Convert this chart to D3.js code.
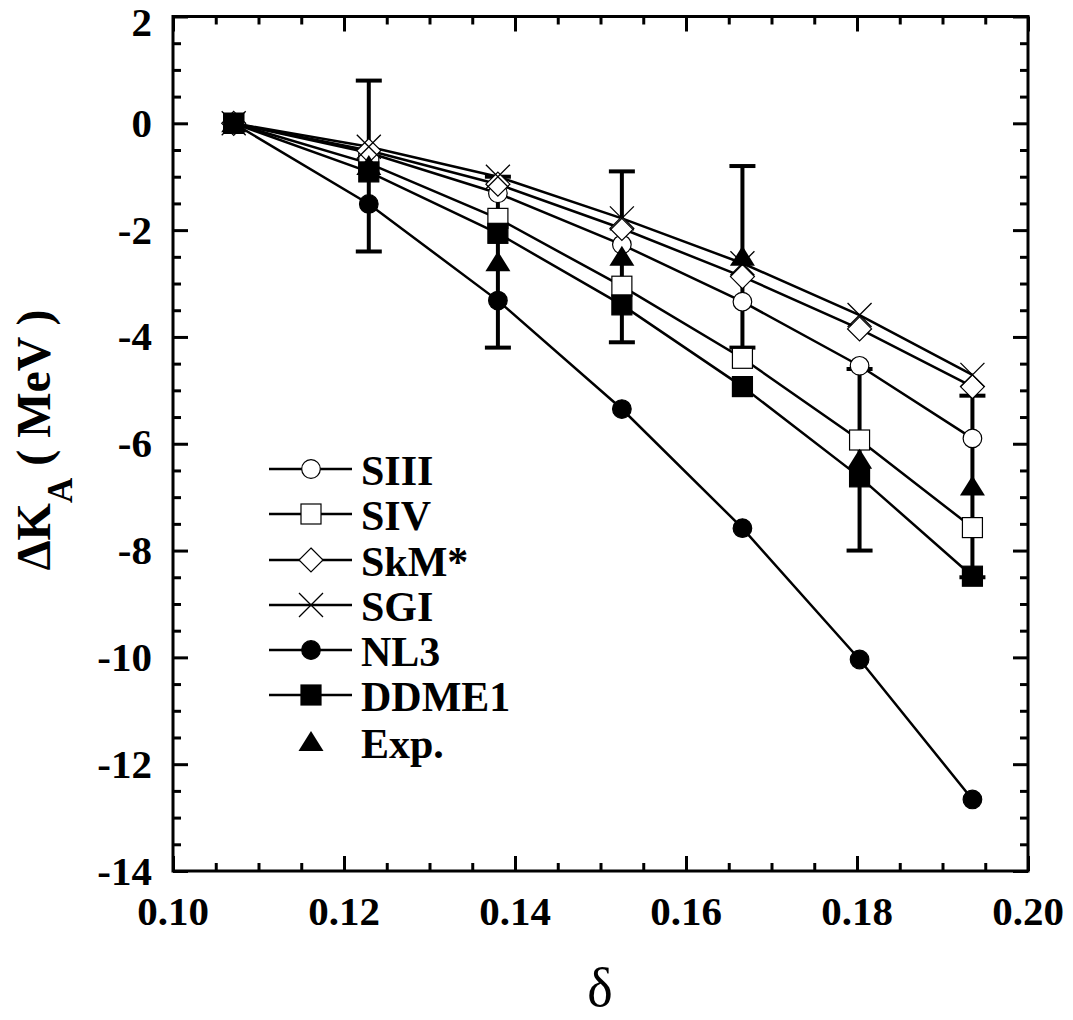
<!DOCTYPE html>
<meta charset="utf-8">
<title>Delta K_A vs delta</title>
<style>
body { margin: 0; background: #fff; }
svg { display: block; }
</style>
<svg width="1073" height="1020" font-family="'Liberation Serif', 'DejaVu Serif', serif"></svg>
<script src="https://d3js.org/d3.v7.min.js"></script>
<script>
// isospin asymmetry delta of each nucleus
var delta = [0.1071, 0.1229, 0.1380, 0.1525, 0.1666, 0.1803, 0.1935];

// Delta K_A (MeV)
var siii  = [0, -0.55, -1.31, -2.27, -3.34, -4.54, -5.90];
var siv   = [0, -0.75, -1.78, -3.05, -4.40, -5.93, -7.57];
var skm   = [0, -0.51, -1.14, -1.97, -2.87, -3.85, -4.93];
var sgi   = [0, -0.44, -1.00, -1.78, -2.62, -3.59, -4.71];
var nl3   = [0, -1.51, -3.32, -5.35, -7.58, -10.04, -12.66];
var ddme1 = [0, -0.91, -2.06, -3.40, -4.93, -6.62, -8.48];
var expVal = [0, -0.8, -2.6, -2.5, -2.5, -6.3, -6.8];
var expErr = [0, 1.6, 1.6, 1.6, 1.7, 1.7, 1.7];

var xTicks = [0.10, 0.12, 0.14, 0.16, 0.18, 0.20];
var yTicks = [2, 0, -2, -4, -6, -8, -10, -12, -14];

var series = [
  {name: "SIII", values: siii, symbol: "circle", fill: "#fff"},
  {name: "SIV", values: siv, symbol: "square", fill: "#fff"},
  {name: "SkM*", values: skm, symbol: "diamond", fill: "#fff"},
  {name: "SGI", values: sgi, symbol: "cross", fill: "none"},
  {name: "NL3", values: nl3, symbol: "circle", fill: "#000"},
  {name: "DDME1", values: ddme1, symbol: "square", fill: "#000"}
];

var FONT = "'Liberation Serif', 'DejaVu Serif', serif";

var svg = d3.select("svg");
var margin = {left: 173, top: 16.5};
var width = 1028 - margin.left,
    height = 871 - margin.top;

var g = svg.append("g").attr("transform", "translate(" + margin.left + "," + margin.top + ")");

var x = d3.scaleLinear().domain([0.10, 0.20]).range([0, width]);
var y = d3.scaleLinear().domain([-14, 2]).range([height, 0]);

var xMinor = d3.range(0.105, 0.2, 0.005).filter(function(v) { return Math.abs(v * 50 - Math.round(v * 50)) > 1e-6; });
var yMinor = d3.range(-13.5, 2, 0.5).filter(function(v) { return Math.abs(v / 2 - Math.round(v / 2)) > 1e-6; });

// ticks on all four sides, pointing inward
function ticks(axis, tr, vals, size) {
  var a = g.append("g").attr("transform", tr)
    .call(axis.tickValues(vals).tickSize(size).tickFormat(""));
  a.select(".domain").remove();
  a.selectAll("line").attr("stroke-width", 3);
  return a;
}
ticks(d3.axisBottom(x), "translate(0," + height + ")", xTicks, -15);
ticks(d3.axisBottom(x), "translate(0," + height + ")", xMinor, -8);
ticks(d3.axisTop(x), null, xTicks, -15);
ticks(d3.axisTop(x), null, xMinor, -8);
ticks(d3.axisLeft(y), null, yTicks, -15);
ticks(d3.axisLeft(y), null, yMinor, -8);
ticks(d3.axisRight(y), "translate(" + width + ",0)", yTicks, -15);
ticks(d3.axisRight(y), "translate(" + width + ",0)", yMinor, -8);

// tick labels
g.selectAll(".xl").data(xTicks).enter().append("text")
    .attr("x", function(d) { return x(d); })
    .attr("y", height + 54)
    .attr("text-anchor", "middle")
    .attr("font-family", FONT)
    .attr("font-size", 41).attr("font-weight", "bold")
    .text(function(d) { return d3.format(".2f")(d); });

// the top label sits against the page edge, keep it inside
g.selectAll(".yl").data(yTicks).enter().append("text")
    .attr("x", -21)
    .attr("y", function(d) { return Math.max(y(d), 6); })
    .attr("dy", "0.33em")
    .attr("text-anchor", "end")
    .attr("font-family", FONT)
    .attr("font-size", 41).attr("font-weight", "bold")
    .text(function(d) { return d; });

g.append("rect")
    .attr("width", width).attr("height", height)
    .attr("fill", "none").attr("stroke", "#000").attr("stroke-width", 3);

// axis titles
svg.append("text")
    .attr("x", 600).attr("y", 1006)
    .attr("text-anchor", "middle")
    .attr("font-family", FONT)
    .attr("font-size", 54)
    .text("δ");

var yt = svg.append("text")
    .attr("transform", "translate(50,440) rotate(-90)")
    .attr("text-anchor", "middle")
    .attr("font-family", FONT)
    .attr("font-size", 48).attr("font-weight", "bold");
yt.append("tspan").text("ΔK");
yt.append("tspan").attr("font-size", 35).attr("dy", 22).text("A");
yt.append("tspan").attr("dy", -22).text(" ( MeV )");

// markers
function marker(sel, symbol, fill) {
  if (symbol === "circle") {
    sel.append("circle").attr("r", 9.3)
      .attr("fill", fill).attr("stroke", "#000").attr("stroke-width", 1.2);
  } else if (symbol === "square") {
    sel.append("rect").attr("x", -10).attr("y", -10).attr("width", 20).attr("height", 20)
      .attr("fill", fill).attr("stroke", "#000").attr("stroke-width", 1.2);
  } else if (symbol === "diamond") {
    sel.append("path").attr("d", "M0,-12L12,0L0,12L-12,0Z")
      .attr("fill", fill).attr("stroke", "#000").attr("stroke-width", 1.2);
  } else if (symbol === "cross") {
    sel.append("path").attr("d", "M-12,-12L12,12M-12,12L12,-12")
      .attr("fill", "none").attr("stroke", "#000").attr("stroke-width", 1.3);
  } else if (symbol === "triangle") {
    sel.append("path").attr("d", "M0,-11L12.5,9L-12.5,9Z")
      .attr("fill", "#000");
  }
}

// error bars of the experiment
var eb = g.append("g").attr("stroke", "#000").attr("stroke-width", 4);
delta.forEach(function(d, i) {
  if (!expErr[i]) return;
  var top = y(expVal[i] + expErr[i]), bot = y(expVal[i] - expErr[i]), cx = x(d);
  eb.append("line").attr("x1", cx).attr("x2", cx).attr("y1", top).attr("y2", bot);
  eb.append("line").attr("x1", cx - 13).attr("x2", cx + 13).attr("y1", top).attr("y2", top);
  eb.append("line").attr("x1", cx - 13).attr("x2", cx + 13).attr("y1", bot).attr("y2", bot);
});

var line = d3.line()
    .x(function(d, i) { return x(delta[i]); })
    .y(function(d) { return y(d); });

series.forEach(function(s) {
  g.append("path").datum(s.values)
    .attr("d", line)
    .attr("fill", "none").attr("stroke", "#000").attr("stroke-width", 2.5);
});

series.forEach(function(s) {
  s.values.forEach(function(v, i) {
    marker(g.append("g").attr("transform", "translate(" + x(delta[i]) + "," + y(v) + ")"), s.symbol, s.fill);
  });
});

expVal.forEach(function(v, i) {
  marker(g.append("g").attr("transform", "translate(" + x(delta[i]) + "," + y(v) + ")"), "triangle", "#000");
});

// legend
var legendY = [469, 514, 560, 605, 650, 695, 742];
var legendItems = series.map(function(s) { return {name: s.name, symbol: s.symbol, fill: s.fill, line: true}; })
  .concat([{name: "Exp.", symbol: "triangle", fill: "#000", line: false}]);

legendItems.forEach(function(d, i) {
  var row = svg.append("g").attr("transform", "translate(0," + legendY[i] + ")");
  if (d.line) {
    row.append("line").attr("x1", 269).attr("x2", 352).attr("y1", 0).attr("y2", 0)
      .attr("stroke", "#000").attr("stroke-width", 2.5);
  }
  marker(row.append("g").attr("transform", "translate(311,0)"), d.symbol, d.fill);
  row.append("text")
    .attr("x", 361).attr("y", 16)
    .attr("font-family", FONT)
    .attr("font-size", 42).attr("font-weight", "bold")
    .text(d.name);
});
</script>
